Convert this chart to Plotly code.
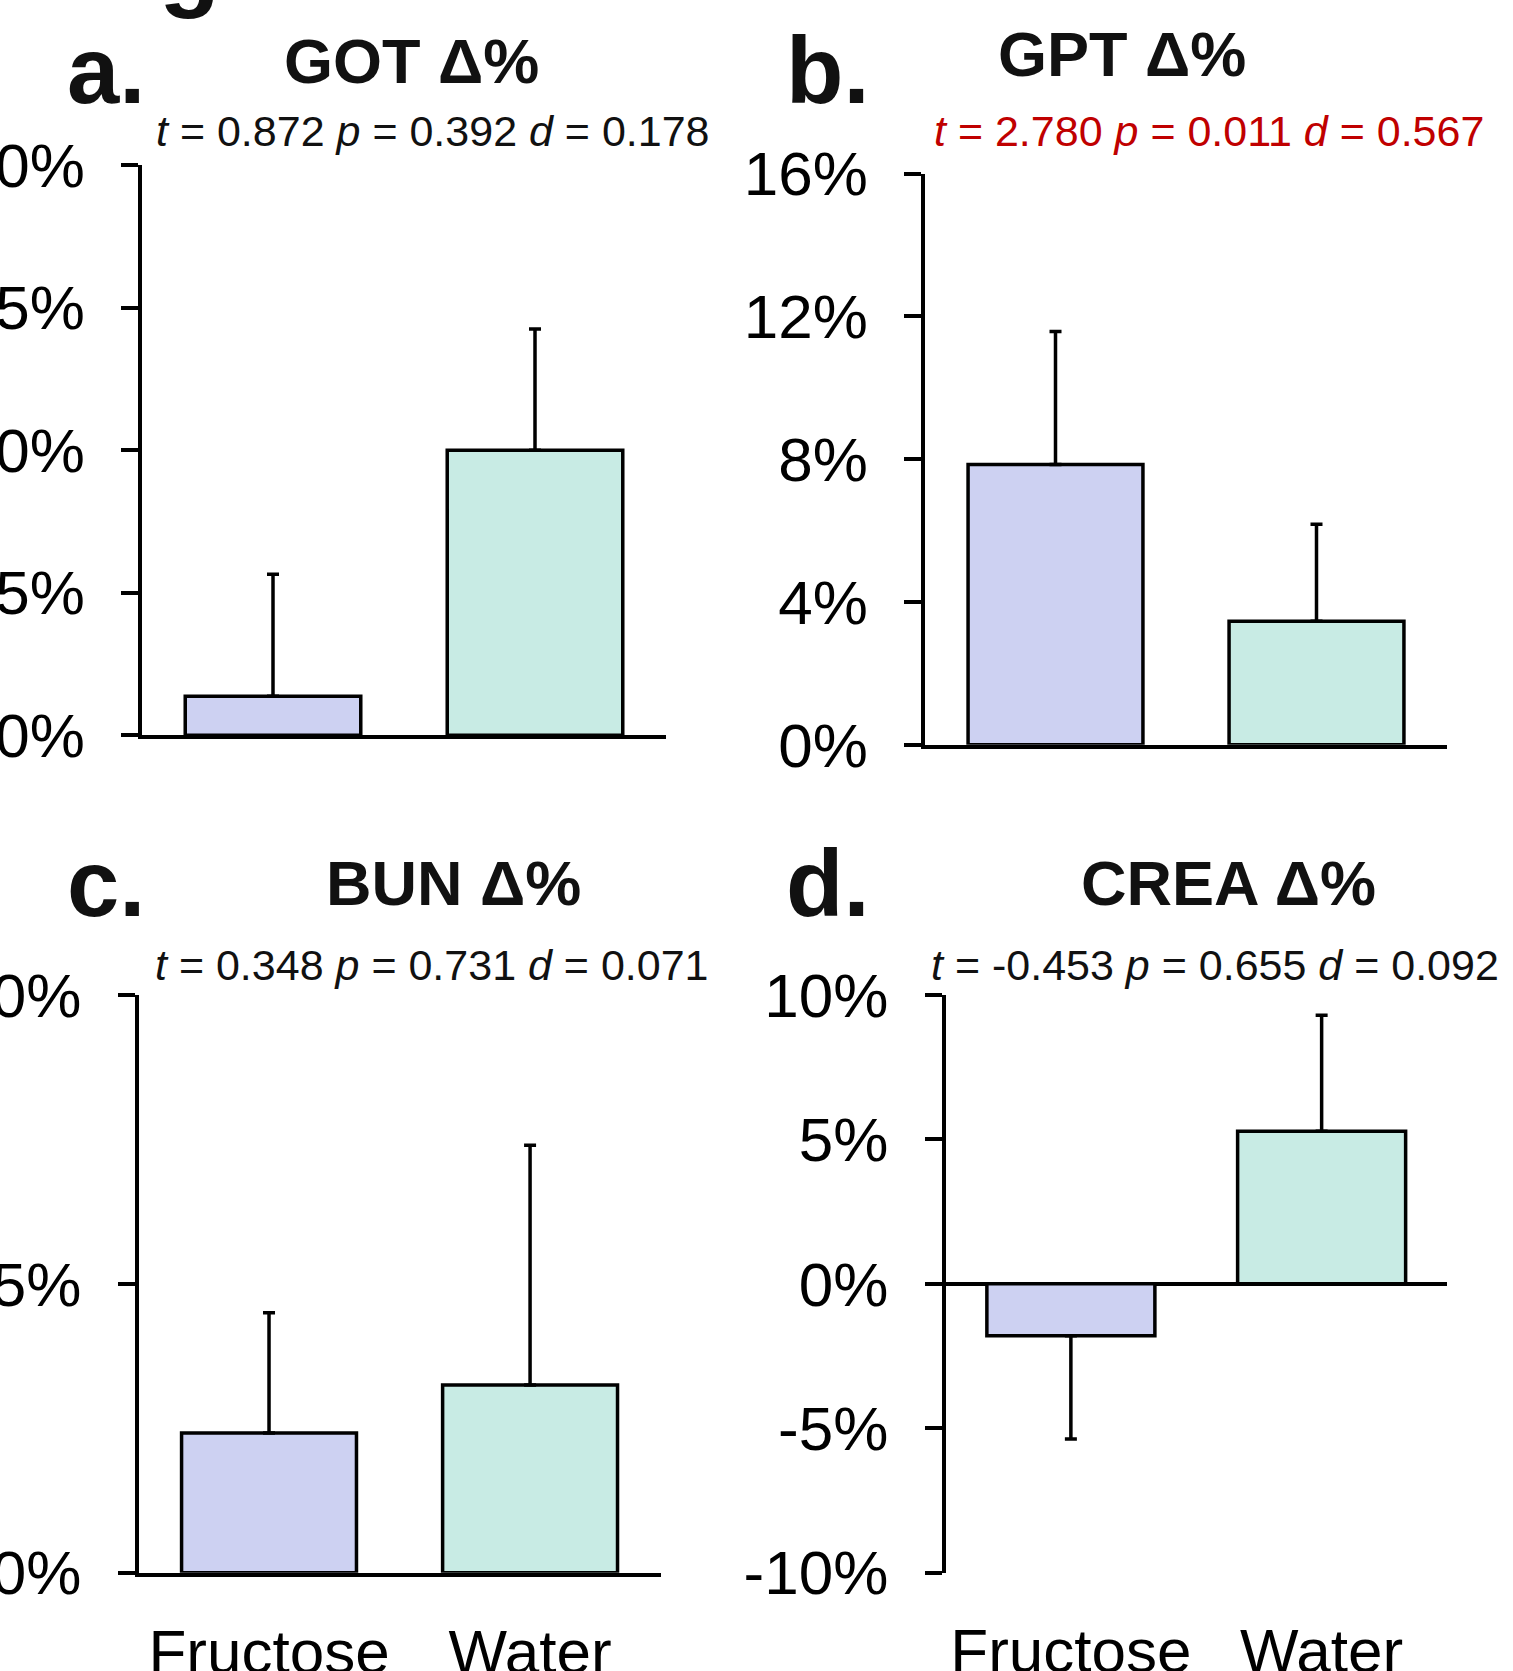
import plotly.graph_objects as go

# ---------------- data ----------------
categories = ["Fructose", "Water"]

got_mean = [1.37, 10.0]
got_err = [4.28, 4.25]
gpt_mean = [7.85, 3.46]
gpt_err = [3.73, 2.72]
bun_mean = [2.42, 3.25]
bun_err = [2.08, 4.15]
crea_mean = [-1.80, 5.28]
crea_err = [3.57, 4.02]

got_ticks = [0, 5, 10, 15, 20]
gpt_ticks = [0, 4, 8, 12, 16]
bun_ticks = [0, 5, 10]
crea_ticks = [-10, -5, 0, 5, 10]

panel_letters = ["a.", "b.", "c.", "d."]
panel_titles = ["GOT Δ%", "GPT Δ%", "BUN Δ%", "CREA Δ%"]
stat_t = ["0.872", "2.780", "0.348", "-0.453"]
stat_p = ["0.392", "0.011", "0.731", "0.655"]
stat_d = ["0.178", "0.567", "0.071", "0.092"]
stat_colors = ["#111111", "#C00000", "#111111", "#111111"]

bar_colors = ["#CDD1F2", "#C8EBE4"]

# ---------------- layout geometry (pixels) ----------------
W, H = 1513, 1671
FONT = "Liberation Sans, Arial, sans-serif"
LW = 3.5

panels = [
    dict(mean=got_mean, err=got_err, ticks=got_ticks, x=(142, 666), y=(165.2, 735.2), xlabels=False, xstand=27),
    dict(mean=gpt_mean, err=gpt_err, ticks=gpt_ticks, x=(925, 1447), y=(173.7, 744.8), xlabels=False, xstand=27),
    dict(mean=bun_mean, err=bun_err, ticks=bun_ticks, x=(138.5, 660.6), y=(995, 1572.7), xlabels=True, xstand=22),
    dict(mean=crea_mean, err=crea_err, ticks=crea_ticks, x=(945.5, 1447), y=(995, 1572.7), xlabels=True, xstand=36),
]

# text positions (pixel centres)
letter_pos = [(106, 70), (828, 70), (106, 883), (828, 883)]
title_pos = [(411, 61), (1122, 54), (453, 883), (1228, 883)]
stat_pos = [(433, 131), (1209, 131), (432, 965), (1215, 965)]

fig = go.Figure()

for i, p in enumerate(panels):
    n = "" if i == 0 else str(i + 1)
    up = [e if m >= 0 else 0 for m, e in zip(p["mean"], p["err"])]
    down = [e if m < 0 else 0 for m, e in zip(p["mean"], p["err"])]
    fig.add_trace(go.Bar(
        x=categories, y=p["mean"],
        xaxis="x" + n, yaxis="y" + n,
        width=0.67,
        marker=dict(color=bar_colors, line=dict(color="black", width=LW)),
        error_y=dict(type="data", symmetric=False, array=up, arrayminus=down,
                     color="black", thickness=LW, width=6),
        cliponaxis=False,
        showlegend=False,
    ))
    ticks = p["ticks"]
    neg = min(ticks) < 0
    xd = [p["x"][0] / W, p["x"][1] / W]
    yd = [1 - p["y"][1] / H, 1 - p["y"][0] / H]
    fig.update_layout(**{
        "xaxis" + n: dict(
            domain=xd, anchor="y" + n, type="category",
            range=[-0.5, 1.5],
            showline=not neg, linecolor="black", linewidth=LW,
            ticks="", showticklabels=p["xlabels"],
            tickfont=dict(family=FONT, size=62, color="black"),
            ticklabelstandoff=p["xstand"],
            showgrid=False, zeroline=False, automargin=False,
        ),
        "yaxis" + n: dict(
            domain=yd, anchor="x" + n,
            range=[min(ticks), max(ticks)],
            tickvals=ticks, ticktext=[f"{v}%" for v in ticks],
            showline=True, linecolor="black", linewidth=LW,
            ticks="outside", ticklen=17, tickwidth=LW, tickcolor="black",
            tickfont=dict(family=FONT, size=62, color="black"),
            ticklabelstandoff=24,
            showgrid=False, zeroline=neg, zerolinecolor="black", zerolinewidth=LW,
            automargin=False,
        ),
    })

annotations = []
for i in range(4):
    lx, ly = letter_pos[i]
    annotations.append(dict(
        text=f"<b>{panel_letters[i]}</b>", x=lx / W, y=1 - ly / H,
        xref="paper", yref="paper", xanchor="center", yanchor="middle",
        showarrow=False, font=dict(family=FONT, size=94, color="#111111")))
    tx, ty = title_pos[i]
    annotations.append(dict(
        text=f"<b>{panel_titles[i]}</b>", x=tx / W, y=1 - ty / H,
        xref="paper", yref="paper", xanchor="center", yanchor="middle",
        showarrow=False, font=dict(family=FONT, size=63, color="#111111")))
    sx, sy = stat_pos[i]
    annotations.append(dict(
        text=f"<i>t</i> = {stat_t[i]} <i>p</i> = {stat_p[i]} <i>d</i> = {stat_d[i]}",
        x=sx / W, y=1 - sy / H,
        xref="paper", yref="paper", xanchor="center", yanchor="middle",
        showarrow=False, font=dict(family=FONT, size=43, color=stat_colors[i])))

# fragment of a glyph cut off at the top edge of the original image
annotations.append(dict(
    text="<b>g</b>", x=190 / W, y=1 + 37 / H,
    xref="paper", yref="paper", xanchor="center", yanchor="middle",
    showarrow=False, font=dict(family=FONT, size=100, color="#111111")))

fig.update_layout(
    width=W, height=H, autosize=False,
    margin=dict(l=0, r=0, t=0, b=0),
    paper_bgcolor="white", plot_bgcolor="white",
    annotations=annotations,
)

fig.write_html("out.html", config={"displayModeBar": False},
               post_script="document.body.style.margin='0';")
